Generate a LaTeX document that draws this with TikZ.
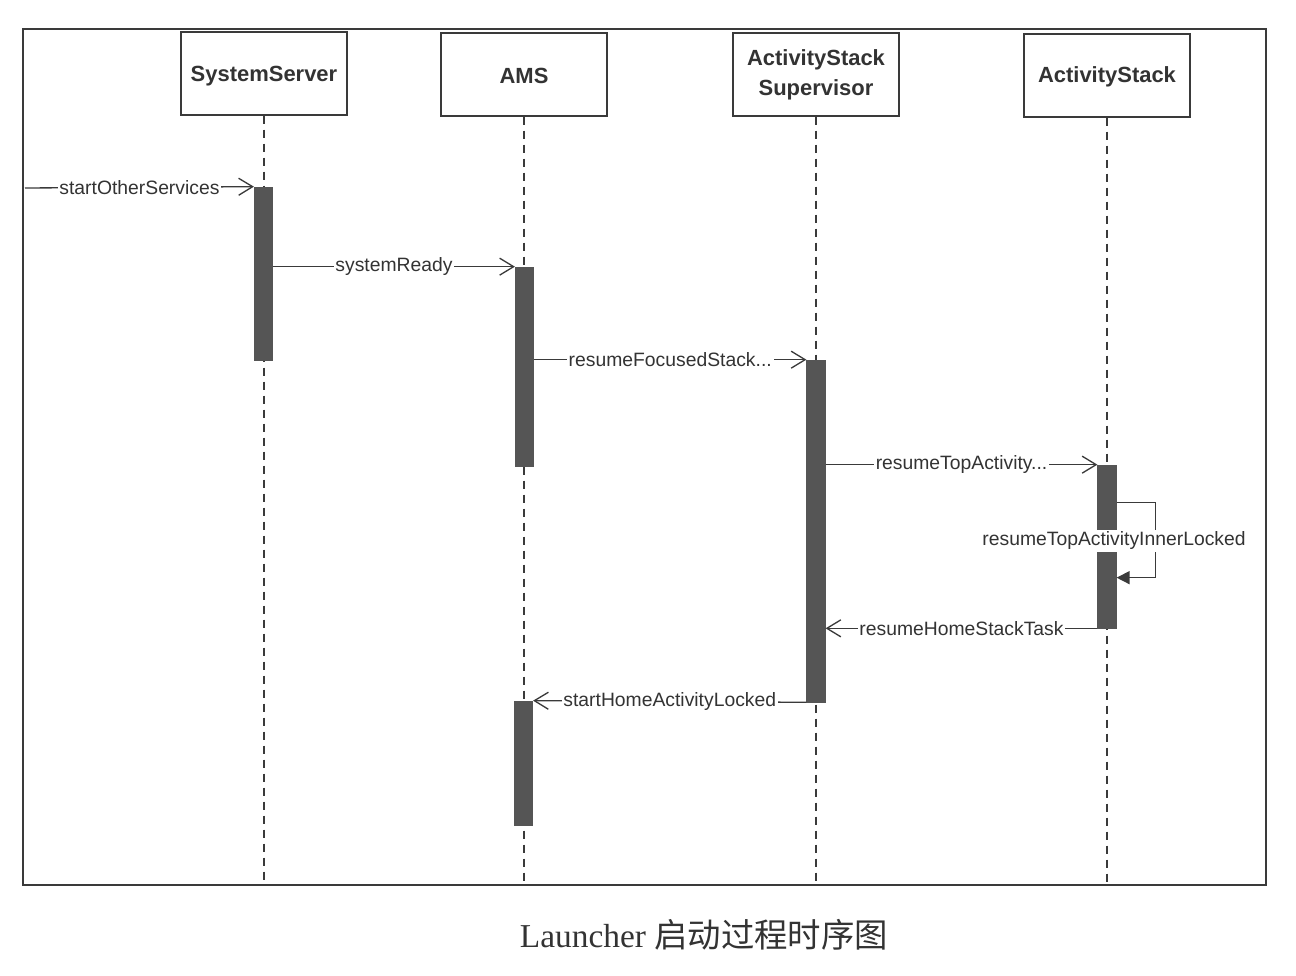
\documentclass[tikz,border=0pt]{standalone}
\usepackage{fontspec}
\setmainfont{Liberation Serif}
\setsansfont{Liberation Sans}
\newfontfamily\cjk{Noto Sans CJK SC}
\usetikzlibrary{arrows.meta,calc}
\definecolor{ln}{HTML}{3A3A3A}
\definecolor{barc}{HTML}{555555}
\definecolor{tx}{HTML}{333333}
\begin{document}
\begin{tikzpicture}[x=0.02cm,y=-0.02cm,
  obj/.style={draw=ln, line width=0.8pt, minimum width=3.32cm, minimum height=1.66cm, inner sep=0pt},
  objtext/.style={text=tx, align=center, font=\sffamily\bfseries\fontsize{12.5}{17}\selectfont},
  life/.style={draw=ln, line width=1pt, dash pattern=on 0.16cm off 0.12cm},
  bar/.style={fill=barc, draw=barc, minimum width=0.37cm, inner sep=0pt},
  msg/.style={draw=ln, line width=0.75pt, -{Straight Barb[length=0.28cm,width=0.34cm]}},
  lbl/.style={fill=white, inner sep=1pt, font=\sffamily\fontsize{11}{13}\selectfont, text=tx},
]
\useasboundingbox (0,0) rectangle (1296,976);
% frame
\draw[ln, line width=0.9pt] (23,29) rectangle (1266,885);
\coordinate (bot) at (0,885);
\coordinate (start) at (25,188);
% objects
\node[obj] (ss) at (264,73.5) {};
\node[objtext] (sst) at (264,76) {SystemServer};
\node[obj] (ams) at (524,74.5) {};
\node[objtext] (amst) at (524,75.5) {AMS};
\node[obj] (sup) at (816,74.5) {};
\node[objtext] (supt) at (816,75) {ActivityStack\\Supervisor};
\node[obj] (as) at (1107,75.5) {};
\node[objtext] (ast) at (1107,77) {ActivityStack};
% lifelines
\draw[life] (ss.south) -- (ss.south |- bot);
\draw[life] (ams.south) -- (ams.south |- bot);
\draw[life] (sup.south) -- (sup.south |- bot);
\draw[life] (as.south) -- (as.south |- bot);
% activation bars
\node[bar, minimum height=3.46cm] (b1) at (263.5,273.5) {};
\node[bar, minimum height=3.98cm] (b2) at (524.5,366.5) {};
\node[bar, minimum height=6.84cm] (b3) at (816,531) {};
\node[bar, minimum height=3.26cm] (b4) at (1107,546.5) {};
\node[bar, minimum height=2.48cm] (b5) at (523.5,763) {};
% messages
\draw[msg] (start) -- node[lbl] {startOtherServices} (b1.north west);
\draw[msg] (b1.east |- b2.north) -- node[lbl] {systemReady} (b2.north west);
\draw[msg] (b2.east |- b3.north) -- node[lbl] {resumeFocusedStack...} (b3.north west);
\draw[msg] (b3.east |- b4.north) -- node[lbl] {resumeTopActivity...} (b4.north west);
\draw[draw=ln, line width=0.75pt, -{Triangle[length=0.26cm,width=0.26cm]}]
  ($(b4.north east)+(0,38)$) -- ++(39,0) |- ($(b4.north east)+(0,113)$);
\node[lbl] (selflbl) at (1114,541) {resumeTopActivityInnerLocked};
\draw[msg] (b4.south west) -- node[lbl] {resumeHomeStackTask} (b3.east |- b4.south);
\draw[msg] (b3.south west) -- node[lbl] {startHomeActivityLocked} (b5.north east);
% caption
\node[text=tx] (cap) at (704,935) {\fontsize{19}{22}\selectfont Launcher {\cjk 启动过程时序图}};
\end{tikzpicture}
\end{document}
